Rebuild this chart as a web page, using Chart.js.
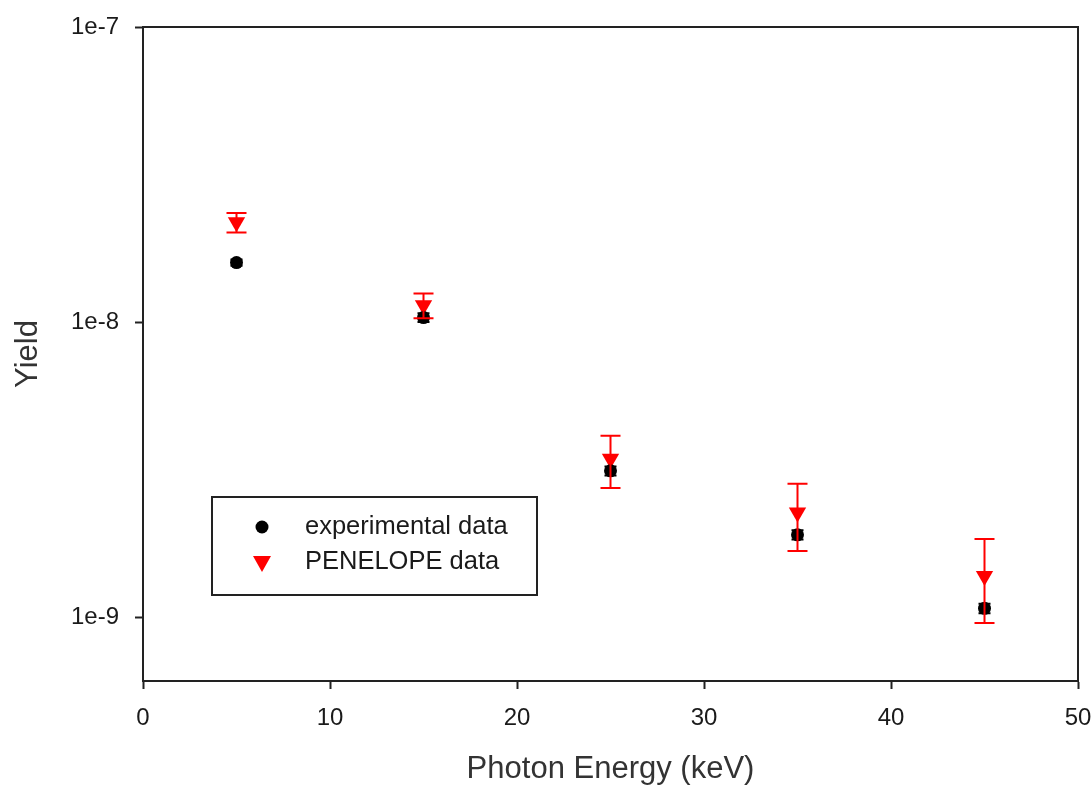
<!DOCTYPE html>
<html>
<head>
<meta charset="utf-8">
<script src="https://cdn.jsdelivr.net/npm/chart.js@4.4.1/dist/chart.umd.min.js"></script>
<style>
html,body{margin:0;padding:0;background:#fff;}
#wrap{width:1092px;height:788px;}
</style>
</head>
<body>
<div id="wrap"><canvas id="c" width="1092" height="788"></canvas></div>
<script>
const energies = [5, 15, 25, 35, 45];
const expYield = [1.59e-8, 1.035e-8, 3.13e-9, 1.90e-9, 1.07e-9];
const expLow   = [1.55e-8, 1.00e-8, 3.02e-9, 1.83e-9, 1.03e-9];
const expHigh  = [1.63e-8, 1.07e-8, 3.24e-9, 1.97e-9, 1.11e-9];
const penYield = [2.18e-8, 1.14e-8, 3.44e-9, 2.26e-9, 1.377e-9];
const penLow   = [2.01e-8, 1.03e-8, 2.74e-9, 1.675e-9, 9.54e-10];
const penHigh  = [2.34e-8, 1.25e-8, 4.12e-9, 2.83e-9, 1.84e-9];
const xTicks = [0, 10, 20, 30, 40, 50];
const yTicks = [1e-9, 1e-8, 1e-7];
const yTickLabels = ['1e-9', '1e-8', '1e-7'];
const seriesNames = ['experimental data', 'PENELOPE data'];

const FONT = "'Liberation Sans', Arial, sans-serif";

const errorBars = {
  id: 'errorBars',
  afterDatasetsDraw(chart) {
    const ctx = chart.ctx;
    const xs = chart.scales.x, ys = chart.scales.y;
    const sets = [
      {low: expLow, high: expHigh, color: '#000', cap: 6},
      {low: penLow, high: penHigh, color: '#ff0000', cap: 10}
    ];
    ctx.save();
    sets.forEach(s => {
      ctx.strokeStyle = s.color;
      ctx.lineWidth = 2;
      energies.forEach((e, i) => {
        const px = xs.getPixelForValue(e);
        const y1 = ys.getPixelForValue(s.low[i]);
        const y2 = ys.getPixelForValue(s.high[i]);
        ctx.beginPath();
        ctx.moveTo(px, y1); ctx.lineTo(px, y2);
        ctx.moveTo(px - s.cap, y1); ctx.lineTo(px + s.cap, y1);
        ctx.moveTo(px - s.cap, y2); ctx.lineTo(px + s.cap, y2);
        ctx.stroke();
      });
    });
    ctx.restore();
  }
};

const frame = {
  id: 'frame',
  afterDraw(chart) {
    const ctx = chart.ctx, a = chart.chartArea;
    ctx.save();
    ctx.strokeStyle = '#222';
    ctx.lineWidth = 2;
    ctx.beginPath();
    ctx.moveTo(a.left - 1, a.top); ctx.lineTo(a.right, a.top); ctx.lineTo(a.right, a.bottom);
    ctx.stroke();
    // legend box
    const bx = 212, by = 497, bw = 325, bh = 98;
    ctx.strokeStyle = '#222';
    ctx.strokeRect(bx, by, bw, bh);
    ctx.font = "25.5px " + FONT;
    ctx.textBaseline = 'middle';
    ctx.textAlign = 'left';
    ctx.fillStyle = '#000';
    ctx.beginPath(); ctx.arc(262, 527, 6.5, 0, Math.PI * 2); ctx.fill();
    ctx.fillStyle = '#ff0000';
    ctx.beginPath();
    ctx.moveTo(253, 556); ctx.lineTo(271, 556); ctx.lineTo(262, 572); ctx.closePath(); ctx.fill();
    ctx.fillStyle = '#1a1a1a';
    ctx.fillText(seriesNames[0], 305, 527);
    ctx.fillText(seriesNames[1], 305, 562);
    ctx.restore();
  }
};

new Chart(document.getElementById('c'), {
  type: 'scatter',
  data: {
    datasets: [
      {
        label: seriesNames[0],
        data: energies.map((e, i) => ({x: e, y: expYield[i]})),
        pointStyle: 'circle',
        pointRadius: 6.5,
        backgroundColor: '#000',
        borderColor: '#000',
        borderWidth: 0
      },
      {
        label: seriesNames[1],
        data: energies.map((e, i) => ({x: e, y: penYield[i]})),
        pointStyle: 'triangle',
        rotation: 180,
        pointRadius: 10,
        backgroundColor: '#ff0000',
        borderColor: '#ff0000',
        borderWidth: 0
      }
    ]
  },
  options: {
    responsive: false,
    animation: false,
    devicePixelRatio: 1,
    layout: {padding: {left: 0, right: 14, top: 27, bottom: 0}},
    plugins: {legend: {display: false}, tooltip: {enabled: false}},
    scales: {
      x: {
        type: 'linear',
        min: 0, max: 50,
        afterBuildTicks(s) { s.ticks = xTicks.map(v => ({value: v})); },
        afterFit(s) { s.height = 107; s.paddingLeft = 0; s.paddingRight = 0; },
        ticks: {
          color: '#1a1a1a', padding: 15,
          font: {family: FONT, size: 24},
          callback: v => String(v), maxRotation: 0
        },
        grid: {display: true, drawOnChartArea: false, drawTicks: true, tickLength: 8, tickColor: '#222', tickWidth: 2},
        border: {display: true, color: '#222', width: 2},
        title: {display: true, text: 'Photon Energy (keV)', color: '#333', font: {family: FONT, size: 31}, padding: 0}
      },
      y: {
        type: 'logarithmic',
        min: 6.07e-10, max: 1e-7,
        afterBuildTicks(s) { s.ticks = yTicks.map(v => ({value: v})); },
        afterFit(s) { s.width = 143; s.paddingTop = 0; s.paddingBottom = 0; },
        ticks: {
          color: '#1a1a1a', padding: 16,
          font: {family: FONT, size: 24},
          callback: (v) => { const i = yTicks.findIndex(t => Math.abs(t - v) / t < 1e-6); return i >= 0 ? yTickLabels[i] : ''; }
        },
        grid: {display: true, drawOnChartArea: false, drawTicks: true, tickLength: 8, tickColor: '#222', tickWidth: 2},
        border: {display: true, color: '#222', width: 2},
        title: {display: true, text: 'Yield', color: '#333', font: {family: FONT, size: 31}, padding: 10}
      }
    }
  },
  plugins: [errorBars, frame]
});
</script>
</body>
</html>
